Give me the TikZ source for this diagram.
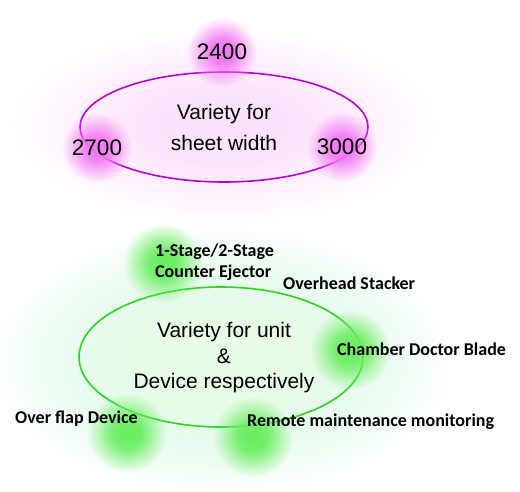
\documentclass[tikz,border=0pt]{standalone}
\usepackage{fontspec}
\setmainfont{Liberation Sans}
\newfontfamily\etikettfont{Carlito}
\usetikzlibrary{fadings}
\definecolor{lila}{RGB}{185,0,215}
\definecolor{rosa}{RGB}{243,120,243}
\definecolor{gruen}{RGB}{40,215,30}
\definecolor{hellgruen}{RGB}{105,238,95}
\definecolor{mint}{RGB}{215,248,242}
\colorlet{rosa-lighter}{rosa!22}

% soft round glow: solid middle, fading rim
\pgfdeclareradialshading{glowshade}{\pgfpointorigin}{color(0bp)=(pgftransparent!0); color(9bp)=(pgftransparent!10); color(25bp)=(pgftransparent!100); color(50bp)=(pgftransparent!100)}
\pgfdeclarefading{glow}{\pgfuseshading{glowshade}}

\begin{document}
\begin{tikzpicture}[x=1pt, y=-1pt, inner sep=0pt,
    zahl/.style={font=\fontsize{22.5}{26}\selectfont},
    mitte/.style={font=\fontsize{21}{25.5}\selectfont, align=center},
    etikett/.style={font=\etikettfont\bfseries\fontsize{18}{21}\selectfont, anchor=west, align=left}]

	\useasboundingbox (0,0) rectangle (520,491);

	% haze behind both rings
	\fill[rosa-lighter, path fading=glow] (224,125) ellipse (215 and 100);
	\fill[mint, path fading=glow] (222,360) ellipse (230 and 135);
	\fill[hellgruen!15, path fading=glow] (222,360) ellipse (230 and 135);

	\coordinate (breite) at (224,127);
	\coordinate (einheit) at (221,357);
	\draw[lila, line width=1.6] (breite) ellipse (144 and 55);
	\draw[gruen, line width=1.6] (einheit) ellipse (142 and 70);

	% glows
	\foreach \p in {(222,52),(97,148),(342,147)}
		\fill[rosa, path fading=glow] \p circle (35);
	\foreach \p in {(163,263),(350,350),(253,437),(127,433)}
		\fill[hellgruen, path fading=glow] \p circle (40);

	% sheet width
	\node[zahl] (w2400) at (222,52) {2400};
	\node[zahl] (w2700) at (97,148) {2700};
	\node[zahl] (w3000) at (342,147) {3000};
	\node[mitte] (breitetext) at (breite) {Variety for\\[5.5pt]sheet width};

	% units and devices
	\node[mitte] (einheittext) at (224,358) {Variety for unit\\\&\\Device respectively};
	\node[etikett] (auswerfer) at (155,262.5) {1-Stage/2-Stage\\Counter Ejector};
	\node[etikett] (stapler) at (283,283) {Overhead Stacker};
	\node[etikett] (rakel) at (337,349) {Chamber Doctor Blade};
	\node[etikett] (wartung) at (247,422) {Remote maintenance monitoring};
	\node[etikett] (klappe) at (15,419) {Over flap Device};

\end{tikzpicture}
\end{document}
